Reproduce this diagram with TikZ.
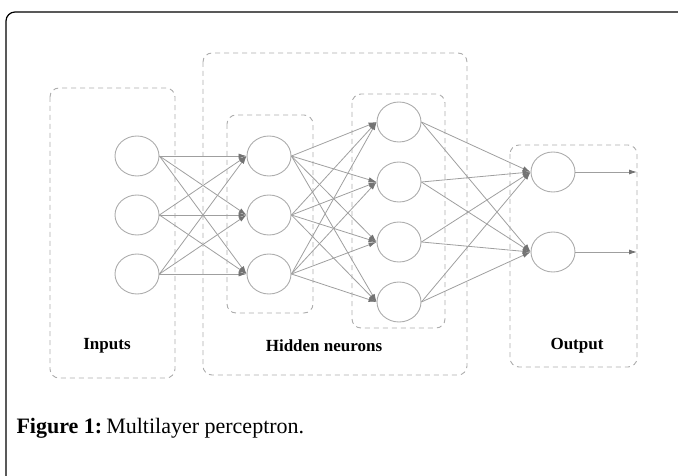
\documentclass[tikz,border=0pt]{standalone}
\usepackage{fontspec}
\setmainfont{Liberation Serif}
\usetikzlibrary{arrows.meta,shapes.geometric}

\tikzset{
    neuron/.style = {ellipse, draw=gray!65, line width=0.9pt, minimum width=44pt, minimum height=40pt, inner sep=0pt},
    link/.style = {draw=gray!75, line width=0.8pt, -{Latex[length=8pt,width=5pt,color=gray!90!black]}},
    group/.style = {draw=gray!65, dash pattern=on 5pt off 4pt, rounded corners=9pt, line width=0.9pt},
    grouplabel/.style = {font=\fontsize{17}{20}\selectfont\bfseries}
}

\begin{document}
\begin{tikzpicture}[x = 1pt, y = -1pt]
    \useasboundingbox (0,0) rectangle (678,476);
    \draw[line width=1.2pt, rounded corners=9pt]
    (6,476) -- (6,12) -- (678,12);
    % dashed layer boxes
    \draw[group] (50,88) rectangle (175,378);
    \draw[group] (203,53) rectangle (467,375);
    \draw[group] (227,115) rectangle (313,313);
    \draw[group] (352,94) rectangle (445,328);
    \draw[group] (510,145) rectangle (637,367);
    % neurons
    \foreach \i/\y in {1/156, 2/215, 3/274}
        \node[neuron] (in\i) at (137,\y) {};
    \foreach \i/\y in {1/156, 2/215, 3/274}
        \node[neuron] (ha\i) at (269,\y) {};
    \foreach \i/\y in {1/122, 2/182, 3/242, 4/302}
        \node[neuron] (hb\i) at (399,\y) {};
    \foreach \i/\y in {1/172, 2/252}
        \node[neuron] (out\i) at (553,\y) {};
    \coordinate (y1) at (637,172);
    \coordinate (y2) at (637,252);
    % connections
    \foreach \i in {1,2,3}
        \foreach \j in {1,2,3}
            \draw[link] (in\i.east) -- (ha\j.west);
    \foreach \i in {1,2,3}
        \foreach \j in {1,2,3,4}
            \draw[link] (ha\i.east) -- (hb\j.west);
    \foreach \i in {1,2,3,4}
        \foreach \j in {1,2}
            \draw[link] (hb\i.east) -- (out\j.west);
    \draw[link] (out1.east) -- (y1);
    \draw[link] (out2.east) -- (y2);
    % labels
    \node[grouplabel] (linputs) at (107,346) {Inputs};
    \node[grouplabel] (lhidden) at (324,346) {Hidden neurons};
    \node[grouplabel] (loutput) at (577,346) {Output};
    \node[anchor=base west, font=\fontsize{22}{25}\selectfont] (caption) at (13,433)
    {\textbf{Figure 1:}\hspace{4pt}Multilayer perceptron.};
\end{tikzpicture}
\end{document}
